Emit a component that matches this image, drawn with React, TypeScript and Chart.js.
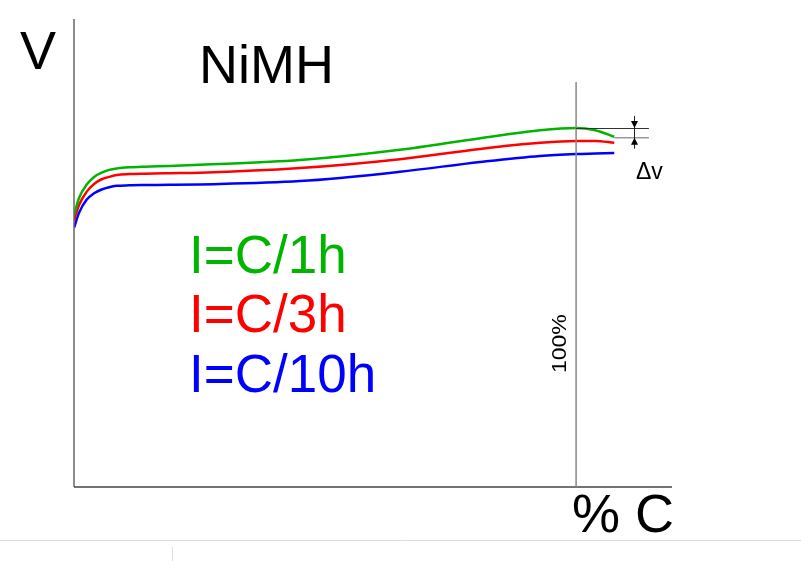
import React, { useEffect, useRef } from "react";
import { Chart, registerables } from "chart.js";

Chart.register(...registerables);

// x: charge in % of capacity C, y: voltage (arbitrary units 0..100)
const xValues = [0, 1.0, 2.5, 4.0, 5.5, 7.0, 8.5, 11.0, 14.0, 19.0, 25.1, 45.0, 64.9, 80.9, 92.8, 100, 103.8, 107.6];
const greenV = [58.2, 61.9, 64.7, 66.4, 67.3, 67.9, 68.2, 68.45, 68.6, 68.75, 69.0, 70.0, 72.2, 74.7, 76.4, 76.9, 76.4, 75.0];
const redV = [57.0, 60.4, 63.2, 64.9, 65.9, 66.4, 66.8, 67.0, 67.1, 67.2, 67.3, 68.3, 70.2, 72.4, 73.7, 74.1, 74.1, 73.7];
const blueV = [55.5, 58.7, 61.5, 62.9, 63.7, 64.2, 64.5, 64.6, 64.65, 64.7, 64.8, 65.5, 67.5, 69.6, 70.9, 71.3, 71.4, 71.5];

const seriesLabels = ["I=C/1h", "I=C/3h", "I=C/10h"];
const seriesColors = ["#00b400", "#ff0000", "#0000ff"];

const fullChargeX = 100; // 100% line
const fullChargeTop = 86.7;
const deltaTop = 76.9;
const deltaBottom = 74.8;
const deltaEndX = 114.5;
const deltaArrowX = 111.5;

const xMax = 119.1;
const yMax = 100;

function toPoints(ys: number[]) {
  return ys.map((y, i) => ({ x: xValues[i], y }));
}

const FONT = "'Liberation Sans', Arial, sans-serif";

const decoPlugin = {
  id: "deco",
  afterDraw(chart: any) {
    const ctx = chart.ctx as CanvasRenderingContext2D;
    const xs = chart.scales.x;
    const ys = chart.scales.y;
    const px = (v: number) => xs.getPixelForValue(v);
    const py = (v: number) => ys.getPixelForValue(v);
    const x0 = px(0);
    const y0 = py(0);
    ctx.save();

    // axes
    ctx.lineWidth = 1.5;
    ctx.strokeStyle = "#666";
    ctx.beginPath();
    ctx.moveTo(x0, py(yMax) - 1);
    ctx.lineTo(x0, y0);
    ctx.stroke();
    ctx.strokeStyle = "#444";
    ctx.beginPath();
    ctx.moveTo(x0, y0);
    ctx.lineTo(px(xMax), y0);
    ctx.stroke();

    // 100% line
    ctx.strokeStyle = "#888";
    ctx.lineWidth = 1.5;
    ctx.beginPath();
    ctx.moveTo(px(fullChargeX), py(fullChargeTop));
    ctx.lineTo(px(fullChargeX), y0);
    ctx.stroke();

    // delta V lines
    ctx.strokeStyle = "#333";
    ctx.lineWidth = 1;
    ctx.beginPath();
    ctx.moveTo(px(fullChargeX), Math.round(py(deltaTop)) + 0.5);
    ctx.lineTo(px(deltaEndX), Math.round(py(deltaTop)) + 0.5);
    ctx.stroke();
    ctx.strokeStyle = "#999";
    ctx.lineWidth = 1.5;
    ctx.beginPath();
    ctx.moveTo(px(xValues[xValues.length - 1]), py(deltaBottom));
    ctx.lineTo(px(deltaEndX), py(deltaBottom));
    ctx.stroke();

    // arrows
    const ax = Math.round(px(deltaArrowX)) + 0.5;
    const tTop = py(deltaTop);
    const tBot = py(deltaBottom);
    ctx.strokeStyle = "#222";
    ctx.lineWidth = 1;
    ctx.beginPath();
    ctx.moveTo(ax, tTop - 12);
    ctx.lineTo(ax, tBot + 11);
    ctx.stroke();
    ctx.fillStyle = "#000";
    ctx.beginPath();
    ctx.moveTo(ax, tTop);
    ctx.lineTo(ax - 3.5, tTop - 7);
    ctx.lineTo(ax + 3.5, tTop - 7);
    ctx.closePath();
    ctx.fill();
    ctx.beginPath();
    ctx.moveTo(ax, tBot);
    ctx.lineTo(ax - 3.5, tBot + 7);
    ctx.lineTo(ax + 3.5, tBot + 7);
    ctx.closePath();
    ctx.fill();

    // texts
    ctx.fillStyle = "#000";
    ctx.textBaseline = "alphabetic";
    ctx.textAlign = "left";
    ctx.font = `23px ${FONT}`;
    ctx.fillText("\u0394v", 636, 179);

    ctx.font = `54px ${FONT}`;
    ctx.fillText("V", 20, 69);
    ctx.fillText("NiMH", 199, 83);
    ctx.fillText("% C", 572, 532);

    ctx.font = `53px ${FONT}`;
    const baselines = [273, 332, 392];
    seriesLabels.forEach((t, i) => {
      ctx.fillStyle = seriesColors[i];
      ctx.fillText(t, 189, baselines[i]);
    });

    // 100% rotated label
    ctx.save();
    ctx.translate(566, 373);
    ctx.rotate(-Math.PI / 2);
    ctx.scale(1.15, 1);
    ctx.fillStyle = "#000";
    ctx.font = `20px ${FONT}`;
    ctx.fillText("100%", 0, 0);
    ctx.restore();

    // page separator lines
    ctx.strokeStyle = "#dcdcdc";
    ctx.lineWidth = 1;
    ctx.beginPath();
    ctx.moveTo(0, 540.5);
    ctx.lineTo(801, 540.5);
    ctx.moveTo(172.5, 547);
    ctx.lineTo(172.5, 561);
    ctx.stroke();

    ctx.restore();
  },
};

export default function App() {
  const ref = useRef<HTMLCanvasElement | null>(null);
  useEffect(() => {
    document.body.style.margin = "0";
    const canvas = ref.current;
    if (!canvas) return;
    const chart = new Chart(canvas, {
      type: "line",
      data: {
        datasets: [greenV, redV, blueV].map((vals, i) => ({
          label: seriesLabels[i],
          data: toPoints(vals),
          borderColor: seriesColors[i],
          borderWidth: 2.5,
          pointRadius: 0,
          fill: false,
          cubicInterpolationMode: "monotone" as const,
        })),
      },
      options: {
        animation: false,
        responsive: true,
        maintainAspectRatio: false,
        layout: { padding: { left: 74, right: 129, top: 20, bottom: 74 } },
        plugins: { legend: { display: false }, tooltip: { enabled: false } },
        scales: {
          x: { type: "linear", min: 0, max: xMax, display: false },
          y: { type: "linear", min: 0, max: yMax, display: false },
        },
      },
      plugins: [decoPlugin],
    });
    return () => chart.destroy();
  }, []);
  return (
    <div style={{ position: "fixed", left: 0, top: 0, width: 801, height: 561, background: "#fff" }}>
      <canvas ref={ref} />
    </div>
  );
}
